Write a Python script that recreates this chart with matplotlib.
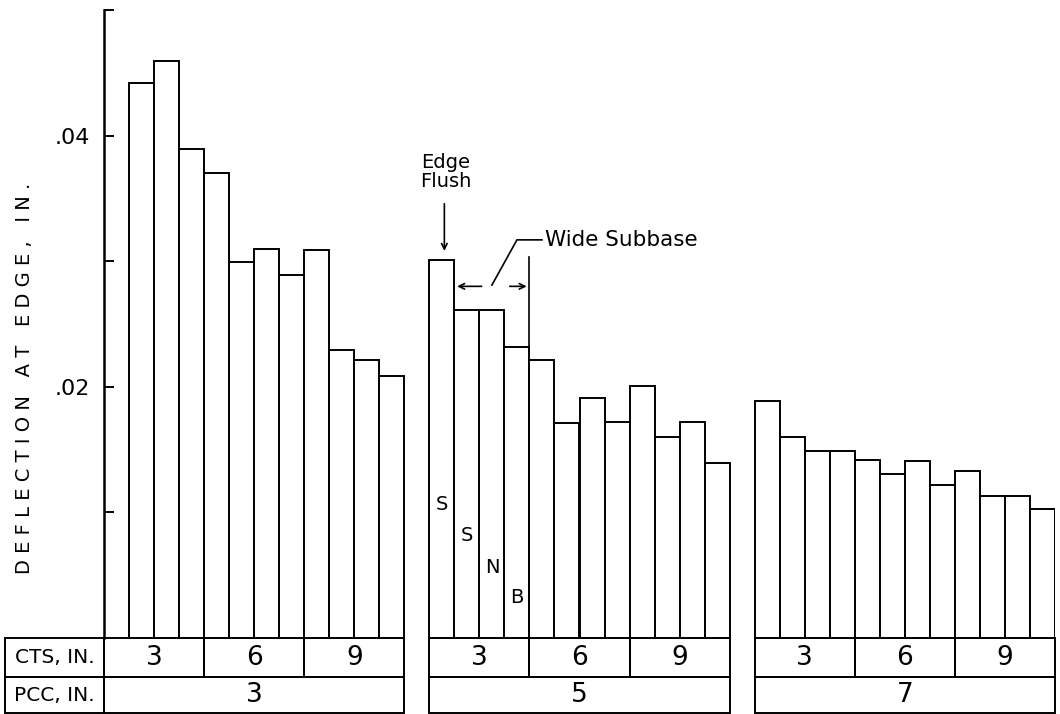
import numpy as np
import matplotlib
matplotlib.use("Agg")
import matplotlib.pyplot as plt
from matplotlib.patches import Rectangle

# deflection at edge (in.) per bar, 4 bars (S, S, N, B) per CTS thickness
pcc_thickness = ["3", "5", "7"]
cts_thickness = ["3", "6", "9"]
bar_letters = ["S", "S", "N", "B"]

pcc3_defl = [np.nan, 0.0442, 0.0459, 0.0389,
             0.0370, 0.0299, 0.0310, 0.0289,
             0.0309, 0.0229, 0.0221, 0.0209]
pcc5_defl = [0.0301, 0.0261, 0.0261, 0.0232,
             0.0221, 0.0171, 0.0191, 0.0172,
             0.0201, 0.0160, 0.0172, 0.0139]
pcc7_defl = [0.0189, 0.0160, 0.0149, 0.0149,
             0.0142, 0.0131, 0.0141, 0.0122,
             0.0133, 0.0113, 0.0113, 0.0103]
groups = [pcc3_defl, pcc5_defl, pcc7_defl]

plt.rcParams["font.family"] = ["DejaVu Sans"]


def spaced(s):
    # wide lettering like the original drawing
    return "   ".join(" ".join(w) for w in s.split(" "))


fig = plt.figure(figsize=(10.6, 7.14), dpi=100)
# pixel layout: x 104..1055 -> 0..38 slots, y 638 -> 0, 10 -> 0.05
ax = fig.add_axes([104 / 1060, 0.0008, 951 / 1060, 0.986 - 0.0008])
ax.set_xlim(0, 38)
ax.set_ylim(-0.0060, 0.05)

lw = 1.4
n_bars = 12
row1 = -0.0031
row2 = -0.0060

for g, defl in enumerate(groups):
    x0 = g * (n_bars + 1)
    x = x0 + np.arange(n_bars)
    ax.bar(x, defl, width=1.0, align="edge", color="white",
           edgecolor="black", linewidth=lw, zorder=2)

    # table below bars
    for k, c in enumerate(cts_thickness):
        ax.add_patch(Rectangle((x0 + 4 * k, row1), 4, -row1, fill=False,
                               edgecolor="black", linewidth=lw, clip_on=False))
        ax.text(x0 + 4 * k + 2, row1 / 2, c, ha="center", va="center",
                fontsize=19)
    ax.add_patch(Rectangle((x0, row2), 12, row1 - row2, fill=False,
                           edgecolor="black", linewidth=lw, clip_on=False))
    ax.text(x0 + 6, (row1 + row2) / 2, pcc_thickness[g], ha="center",
            va="center", fontsize=19)

# row header cells
lab_w = 3.96
ax.add_patch(Rectangle((-lab_w, row1), lab_w, -row1, fill=False,
                       edgecolor="black", linewidth=lw, clip_on=False))
ax.add_patch(Rectangle((-lab_w, row2), lab_w, row1 - row2, fill=False,
                       edgecolor="black", linewidth=lw, clip_on=False))
ax.text(-lab_w / 2, row1 / 2, "CTS, IN.", ha="center", va="center",
        fontsize=14.5)
ax.text(-lab_w / 2, (row1 + row2) / 2, "PCC, IN.", ha="center", va="center",
        fontsize=14.5)

# S S N B letters in the PCC 5 / CTS 3 bars
letter_y = [0.0106, 0.0082, 0.0056, 0.0032]
for i, (s, yy) in enumerate(zip(bar_letters, letter_y)):
    ax.text(13 + i + 0.5, yy, s, ha="center", va="center", fontsize=14)

# annotations
ax.text(13.65, 0.0371, "Edge\nFlush", ha="center", va="center",
        fontsize=14, linespacing=1.0)
ax.annotate("", xy=(13.6, 0.0306), xytext=(13.6, 0.0348),
            arrowprops=dict(arrowstyle="->", lw=1.2, color="black"))
ax.text(17.62, 0.0317, "Wide Subbase", ha="left", va="center", fontsize=15.5)
ax.plot([17.5, 16.5, 15.5], [0.0317, 0.0317, 0.0281], color="black", lw=1.2)
ax.annotate("", xy=(14.0, 0.0280), xytext=(15.2, 0.0280),
            arrowprops=dict(arrowstyle="->", lw=1.2, color="black"))
ax.annotate("", xy=(17.0, 0.0280), xytext=(16.1, 0.0280),
            arrowprops=dict(arrowstyle="->", lw=1.2, color="black"))
ax.plot([17, 17], [0.0303, pcc5_defl[3]], color="black", lw=1.2)

# axes styling
for side in ["top", "right", "bottom"]:
    ax.spines[side].set_visible(False)
ax.spines["left"].set_bounds(0, 0.05)
ax.spines["left"].set_linewidth(1.8)
ax.set_xticks([])
ax.set_yticks([0.01, 0.02, 0.03, 0.04, 0.05])
ax.set_yticklabels(["", ".02", "", ".04", ""])
ax.tick_params(axis="y", direction="in", length=7, width=1.4, pad=10,
               labelsize=16)
ax.set_ylabel(spaced("DEFLECTION AT EDGE, IN."), fontsize=14)
ax.yaxis.set_label_coords(-70 / 951, (713.4 - 378) / 703.4)

fig.savefig("out.png", dpi=100)
